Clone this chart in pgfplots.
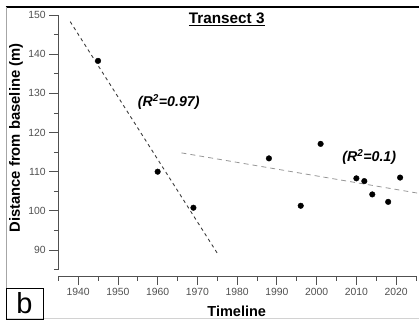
\documentclass[border=0pt]{standalone}
\usepackage{fontspec}
\setmainfont{Liberation Sans}
\usepackage{pgfplots}
\pgfplotsset{compat=1.18}
\definecolor{axgray}{RGB}{80,80,80}
\definecolor{tickgray}{RGB}{80,80,80}
\definecolor{fitone}{RGB}{60,60,60}
\definecolor{fittwo}{RGB}{150,150,150}
\begin{document}
\begin{tikzpicture}[x=1pt,y=1pt]
\path[use as bounding box] (0,0) rectangle (419,-319);
\begin{axis}[
  at={(58.3pt,-276pt)}, anchor=south west, scale only axis,
  width=357.7pt, height=261pt,
  xmin=1935, xmax=2025, ymin=83.37, ymax=150,
  axis lines=left, axis line style={-, axgray, line width=0.8pt},
  y axis line style={shorten <=6.4pt},
  xtick={1940,1950,...,2020}, minor xtick={1935,1945,...,2025},
  ytick={90,100,...,150}, minor ytick={85,95,...,145},
  tick align=outside, major tick length=9pt, minor tick length=4.5pt,
  tick style={axgray, line width=0.8pt},
  ticklabel style={font=\fontsize{10.4}{12}\selectfont, text=tickgray},
  /pgf/number format/assume math mode=true,
  x tick label style={/pgf/number format/1000 sep={}},
  clip=false,
]
\addplot[fitone, line width=0.9pt, dash pattern=on 3.3pt off 3.3pt] coordinates {(1938,148.3) (1975,89.2)};
\addplot[fittwo, line width=0.8pt, dash pattern=on 5pt off 4pt] coordinates {(1966,114.8) (2025.6,104.5)};
\addplot[only marks, mark=*, mark size=2.8pt, black] coordinates {
(1945,138.3) (1960,110.0) (1969,100.8)
(1988,113.4) (1996,101.3) (2001,117.1) (2010,108.3) (2012,107.6)
(2014,104.2) (2018,102.3) (2021,108.5)};
\end{axis}
% frame
\draw[black, line width=1.8pt] (5.5,-7) -- (419,-7);
\draw[gray!70, line width=0.8pt] (6.5,-7) -- (6.5,-319);
\draw[gray!35, line width=0.8pt] (6,-318.3) -- (419,-318.3);
\draw[black, line width=0.6pt] (6,-288) rectangle (43,-319);
\node[anchor=base, inner sep=0pt, font=\fontsize{29}{31}\selectfont] at (24.5,-313.3) {b};
% texts
\node[anchor=base, inner sep=0pt, font=\bfseries\fontsize{15.3}{18}\selectfont] at (226.7,-23.3) {\underline{Transect 3}};
\node[rotate=90, inner sep=0pt, font=\bfseries\fontsize{14.8}{17}\selectfont] at (16,-138) {Distance from baseline (m)};
\node[anchor=base, inner sep=0pt, font=\bfseries\fontsize{14.5}{17}\selectfont] at (236.7,-316.7) {Timeline};
\node[anchor=base, inner sep=0pt, font=\bfseries\itshape\fontsize{14.2}{17}\selectfont] at (168.7,-106.7) {(R\textsuperscript{2}=0.97)};
\node[anchor=base, inner sep=0pt, font=\bfseries\itshape\fontsize{14.2}{17}\selectfont] at (369.2,-161.7) {(R\textsuperscript{2}=0.1)};
\end{tikzpicture}
\end{document}
